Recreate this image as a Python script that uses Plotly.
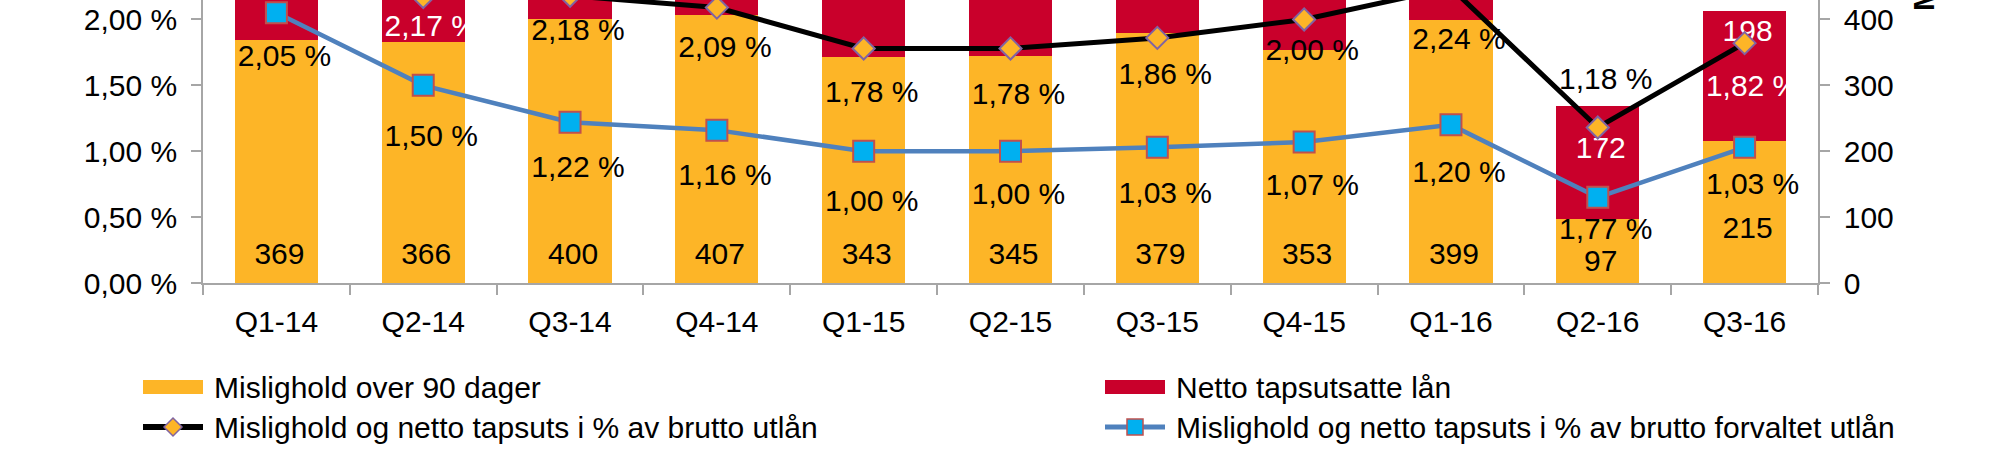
import plotly.graph_objects as go

# ---------------- data ----------------
quarters = ["Q1-14", "Q2-14", "Q3-14", "Q4-14", "Q1-15", "Q2-15",
            "Q3-15", "Q4-15", "Q1-16", "Q2-16", "Q3-16"]
mislighold_90 = [369, 366, 400, 407, 343, 345, 379, 353, 399, 97, 215]
netto_tapsutsatte = [150, 125, 90, 80, 145, 145, 110, 124, 95, 172, 198]
pct_brutto_utlan = [2.55, 2.17, 2.18, 2.09, 1.78, 1.78, 1.86, 2.00, 2.24, 1.18, 1.82]
pct_brutto_forvaltet = [2.05, 1.50, 1.22, 1.16, 1.00, 1.00, 1.03, 1.07, 1.20, 0.65, 1.03]
labels_forvaltet = ["2,05 %", "1,50 %", "1,22 %", "1,16 %", "1,00 %", "1,00 %",
                    "1,03 %", "1,07 %", "1,20 %", "1,77 %", "1,03 %"]
pct_ticks = [0, 0.5, 1.0, 1.5, 2.0]
mnok_ticks = [0, 100, 200, 300, 400]

# ---------------- layout constants ----------------
W, H = 1997, 458
ML, MR, MT, MB = 203, 179, 0, 175
PW = W - ML - MR
PH = H - MT - MB
YMAX = 429.5
PCTMAX = YMAX / 200.0
MNOK_PX = YMAX / PH
PCT_PX = PCTMAX / PH
X_PX = 11.0 / PW

FONT = "Liberation Sans, Arial, sans-serif"
FS = 30
YELLOW = "#FDB527"
RED = "#C9002B"
AXIS = "#A6A6A6"
BLUE = "#4F81BD"
CYAN = "#00B0F0"
SQ_EDGE = "#C0504D"
DIA_EDGE = "#8064A2"

# label offsets in pixels (positive = up)
yellow_dy = [27] * 9 + [20, 53]
red_dy = [-23] * 9 + [-45, -23]
black_dy = [-42, -31, -37, -42, -46, -48, -39, -33, -54, 46, -45]
blue_dy = [-46, -53, -47, -47, -52, -45, -48, -46, -50, -34, -39]
PCT_DX = 8 * X_PX
NUM_DX = 3 * X_PX
HIDE_ABOVE = YMAX + 10 * MNOK_PX   # labels entirely above the visible area

xs = list(range(len(quarters)))


def fmt_pct(v):
    return f"{v:.2f}".replace(".", ",") + " %"


def visible(text, m):
    return text if m < HIDE_ABOVE else ""


fig = go.Figure()

# bars (MNOK, base axis y on the right)
fig.add_trace(go.Bar(x=xs, y=mislighold_90, name="Mislighold over 90 dager",
                     marker=dict(color=YELLOW, line=dict(width=0)), width=0.567,
                     yaxis="y", hoverinfo="skip"))
fig.add_trace(go.Bar(x=xs, y=netto_tapsutsatte, name="Netto tapsutsatte lån",
                     marker=dict(color=RED, line=dict(width=0)), width=0.567,
                     yaxis="y", hoverinfo="skip"))

# bar value labels
fig.add_trace(go.Scatter(
    x=[x + NUM_DX for x in xs],
    y=[d * MNOK_PX for d in yellow_dy],
    mode="text", text=[str(v) for v in mislighold_90],
    textfont=dict(family=FONT, size=FS, color="black"),
    textposition="middle center", yaxis="y", showlegend=False,
    hoverinfo="skip", cliponaxis=True))
red_label_y = [a + b + d * MNOK_PX for a, b, d in zip(mislighold_90, netto_tapsutsatte, red_dy)]
fig.add_trace(go.Scatter(
    x=[x + NUM_DX for x in xs],
    y=red_label_y,
    mode="text", text=[visible(str(v), m) for v, m in zip(netto_tapsutsatte, red_label_y)],
    textfont=dict(family=FONT, size=FS, color="white"),
    textposition="middle center", yaxis="y", showlegend=False,
    hoverinfo="skip", cliponaxis=True))

# lines (percent, overlay axis y2 on the left)
fig.add_trace(go.Scatter(
    x=xs, y=pct_brutto_utlan, name="Mislighold og netto tapsuts i % av brutto utlån",
    mode="lines+markers", yaxis="y2",
    line=dict(color="black", width=5),
    marker=dict(symbol="diamond", size=17, color=YELLOW, line=dict(color=DIA_EDGE, width=2)),
    hoverinfo="skip", cliponaxis=True))
fig.add_trace(go.Scatter(
    x=xs, y=pct_brutto_forvaltet, name="Mislighold og netto tapsuts i % av brutto forvaltet utlån",
    mode="lines+markers", yaxis="y2",
    line=dict(color=BLUE, width=4.5),
    marker=dict(symbol="square", size=21, color=CYAN, line=dict(color=SQ_EDGE, width=2)),
    hoverinfo="skip", cliponaxis=True))


def label_color(i, pct, dy):
    m = pct * 200 + dy * MNOK_PX
    lo = mislighold_90[i]
    hi = mislighold_90[i] + netto_tapsutsatte[i]
    return "white" if lo < m < hi else "black"


black_label_y = [v + d * PCT_PX for v, d in zip(pct_brutto_utlan, black_dy)]
fig.add_trace(go.Scatter(
    x=[x + PCT_DX for x in xs],
    y=black_label_y,
    mode="text", text=[visible(fmt_pct(v), y * 200) for v, y in zip(pct_brutto_utlan, black_label_y)],
    textfont=dict(family=FONT, size=FS,
                  color=[label_color(i, v, d) for i, (v, d) in enumerate(zip(pct_brutto_utlan, black_dy))]),
    textposition="middle center", yaxis="y2", showlegend=False,
    hoverinfo="skip", cliponaxis=True))
fig.add_trace(go.Scatter(
    x=[x + PCT_DX for x in xs],
    y=[v + d * PCT_PX for v, d in zip(pct_brutto_forvaltet, blue_dy)],
    mode="text", text=labels_forvaltet,
    textfont=dict(family=FONT, size=FS,
                  color=[label_color(i, v, d) for i, (v, d) in enumerate(zip(pct_brutto_forvaltet, blue_dy))]),
    textposition="middle center", yaxis="y2", showlegend=False,
    hoverinfo="skip", cliponaxis=True))


# ---------------- custom legend ----------------
def px(p):
    return (p - ML) / PW


def py(p):
    return (MT + PH - p) / PH


shapes = []
annotations = []
col_x = [143, 1105]
row_y = [387, 427]
sym_w = 60
text_gap = 9

# bar entries
for cx, col in zip(col_x, [YELLOW, RED]):
    shapes.append(dict(type="rect", xref="paper", yref="paper",
                       x0=px(cx), x1=px(cx + sym_w), y0=py(row_y[0] + 7), y1=py(row_y[0] - 7),
                       fillcolor=col, line=dict(width=0)))
# line entries
shapes.append(dict(type="line", xref="paper", yref="paper",
                   x0=px(col_x[0]), x1=px(col_x[0] + sym_w), y0=py(row_y[1]), y1=py(row_y[1]),
                   line=dict(color="black", width=6)))
dcx, dcy = col_x[0] + sym_w / 2, row_y[1]
shapes.append(dict(type="path", xref="paper", yref="paper",
                   path=f"M {px(dcx - 9)} {py(dcy)} L {px(dcx)} {py(dcy - 9)} L {px(dcx + 9)} {py(dcy)} L {px(dcx)} {py(dcy + 9)} Z",
                   fillcolor=YELLOW, line=dict(color=DIA_EDGE, width=1.5)))
shapes.append(dict(type="line", xref="paper", yref="paper",
                   x0=px(col_x[1]), x1=px(col_x[1] + sym_w), y0=py(row_y[1]), y1=py(row_y[1]),
                   line=dict(color=BLUE, width=5)))
scx = col_x[1] + sym_w / 2
shapes.append(dict(type="rect", xref="paper", yref="paper",
                   x0=px(scx - 8), x1=px(scx + 8), y0=py(row_y[1] + 8), y1=py(row_y[1] - 8),
                   fillcolor=CYAN, line=dict(color=SQ_EDGE, width=1.5)))

legend_texts = [
    (col_x[0], row_y[0], "Mislighold over 90 dager"),
    (col_x[1], row_y[0], "Netto tapsutsatte lån"),
    (col_x[0], row_y[1], "Mislighold og netto tapsuts i % av brutto utlån"),
    (col_x[1], row_y[1], "Mislighold og netto tapsuts i % av brutto forvaltet utlån"),
]
for cx, cy, t in legend_texts:
    annotations.append(dict(text=t, xref="paper", yref="paper",
                            x=px(cx + sym_w + text_gap), y=py(cy),
                            xanchor="left", yanchor="middle", showarrow=False,
                            font=dict(family=FONT, size=FS, color="black")))

# right axis title (mostly cut off at the top)
annotations.append(dict(text="<b>MNOK</b>", xref="paper", yref="paper",
                        x=px(1923), y=py(13), xanchor="center", yanchor="bottom",
                        textangle=-90, showarrow=False,
                        font=dict(family=FONT, size=FS, color="black")))

fig.update_layout(
    width=W, height=H,
    margin=dict(l=ML, r=MR, t=MT, b=MB, pad=0),
    paper_bgcolor="white", plot_bgcolor="white",
    barmode="stack", bargap=0.433,
    showlegend=False,
    font=dict(family=FONT, size=FS, color="black"),
    shapes=shapes, annotations=annotations,
    xaxis=dict(
        range=[-0.5, 10.5], tickmode="array", tickvals=xs, ticktext=quarters,
        ticks="", showline=True, linecolor=AXIS, linewidth=1.5,
        showgrid=False, zeroline=False, ticklabelstandoff=11,
        tickfont=dict(family=FONT, size=FS, color="black"),
        minor=dict(tickmode="array", tickvals=[x - 0.5 for x in range(len(quarters) + 1)],
                   ticks="outside", ticklen=10, tickwidth=1.5, tickcolor=AXIS, showgrid=False),
    ),
    yaxis=dict(
        range=[0, YMAX], side="right", tickmode="array", tickvals=mnok_ticks,
        ticktext=[str(v) for v in mnok_ticks],
        ticks="outside", ticklen=10, tickwidth=1.5, tickcolor=AXIS,
        showline=True, linecolor=AXIS, linewidth=1.5, showgrid=False, zeroline=False,
        ticklabelstandoff=8,
        tickfont=dict(family=FONT, size=FS, color="black"),
    ),
    yaxis2=dict(
        range=[0, PCTMAX], side="left", overlaying="y", tickmode="array",
        tickvals=pct_ticks, ticktext=[fmt_pct(v) for v in pct_ticks],
        ticks="outside", ticklen=10, tickwidth=1.5, tickcolor=AXIS,
        showline=True, linecolor=AXIS, linewidth=1.5, showgrid=False, zeroline=False,
        ticklabelstandoff=8,
        tickfont=dict(family=FONT, size=FS, color="black"),
    ),
)

fig.write_html("out.html")
